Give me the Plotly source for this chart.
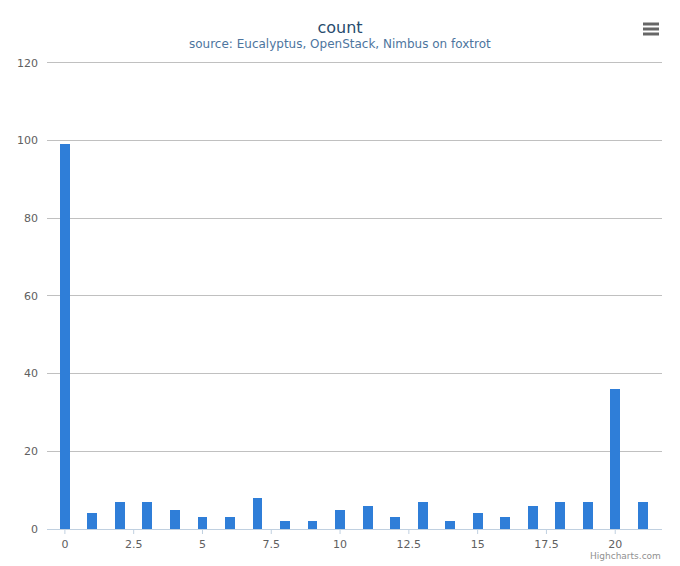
import plotly.graph_objects as go

# values
bins = list(range(22))
counts = [99, 4, 7, 7, 5, 3, 3, 8, 2, 2, 5, 6, 3, 7, 2, 4, 3, 6, 7, 7, 36, 7]
x_ticks = [0, 2.5, 5, 7.5, 10, 12.5, 15, 17.5, 20]
x_tick_text = ["0", "2.5", "5", "7.5", "10", "12.5", "15", "17.5", "20"]
y_ticks = [0, 20, 40, 60, 80, 100, 120]

W, H = 680, 566
L, R, T, B = 47, 18, 59, 37
pw, ph = W - L - R, H - T - B


def px(x):
    return (x - L) / pw


def py(y):
    return (H - B - y) / ph


fig = go.Figure()
fig.add_trace(go.Bar(
    x=bins, y=counts,
    width=0.36,
    marker=dict(color="#2f7ed8", line=dict(width=0)),
    name="count",
))

shapes = []
# x axis tick marks (drawn as shapes so labels sit closer to the axis)
for t in x_ticks:
    shapes.append(dict(type="line", xref="x", yref="paper",
                       x0=t, x1=t, y0=0, y1=-5 / ph,
                       line=dict(color="#C0D0E0", width=1)))
# hamburger menu icon
for yy in (24, 29, 34):
    shapes.append(dict(type="line", xref="paper", yref="paper",
                       x0=px(643), x1=px(659), y0=py(yy), y1=py(yy),
                       line=dict(color="#666666", width=3)))

fig.update_layout(
    width=W, height=H,
    margin=dict(l=L, r=R, t=T, b=B, autoexpand=False),
    paper_bgcolor="white", plot_bgcolor="white",
    font=dict(family="DejaVu Sans", size=11, color="#606060"),
    showlegend=False,
    bargap=0,
    title=dict(text="count", x=0.5, xanchor="center", y=1 - 27 / H, yanchor="middle",
               font=dict(size=16, color="#274b6d")),
    xaxis=dict(
        range=[-0.65, 21.7],
        tickvals=x_ticks, ticktext=x_tick_text,
        showgrid=False, zeroline=False,
        showline=True, linecolor="#C0D0E0", linewidth=1,
        ticks="", ticklabelstandoff=5,
        tickfont=dict(size=11, color="#606060"),
    ),
    yaxis=dict(
        range=[0, 121],
        tickvals=y_ticks,
        showgrid=True, gridcolor="#C0C0C0", gridwidth=1,
        zeroline=False, showline=False, ticks="",
        ticklabelstandoff=8,
        tickfont=dict(size=11, color="#606060"),
    ),
    shapes=shapes,
    annotations=[
        dict(text="source: Eucalyptus, OpenStack, Nimbus on foxtrot",
             xref="paper", yref="paper", x=px(340), y=py(44),
             xanchor="center", yanchor="middle", showarrow=False,
             font=dict(size=12, color="#4d759e")),
        dict(text="Highcharts.com",
             xref="paper", yref="paper", x=px(662), y=py(556),
             xanchor="right", yanchor="middle", showarrow=False,
             borderpad=0,
             font=dict(size=9, color="#909090")),
    ],
)

fig.write_html("out.html", config={"displayModeBar": False},
               post_script="document.body.style.margin='0';")
